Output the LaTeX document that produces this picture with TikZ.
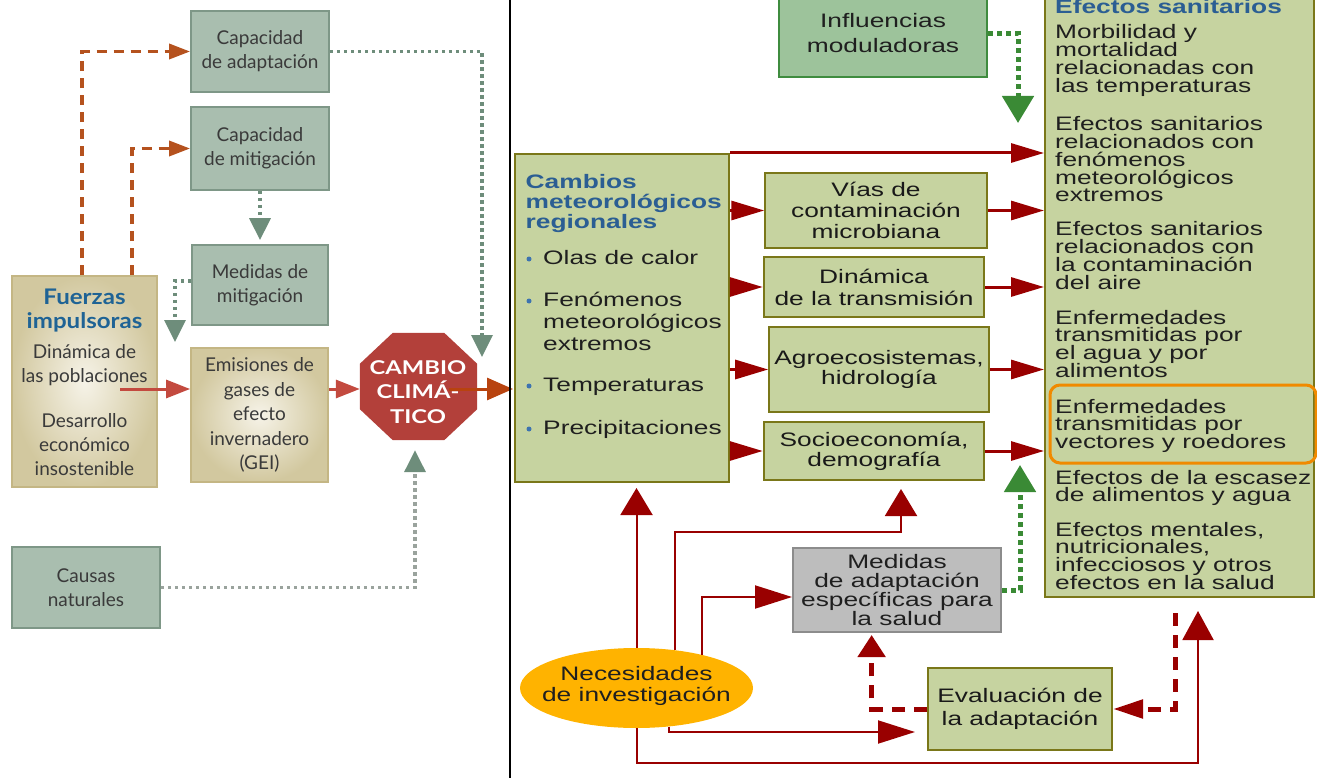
\documentclass[tikz,border=0pt]{standalone}
\usepackage{fontspec}
\setmainfont{Liberation Sans}
\newfontfamily\lfont{Lato}
\newfontfamily\lbfont[FakeStretch=1.12]{Lato}
\newfontfamily\ofont[FakeStretch=1.25]{Lato}
\newfontfamily\rfont[FakeStretch=1.35]{Liberation Sans}
\usetikzlibrary{arrows.meta,shapes.geometric}
\lineskiplimit=-100pt
\newcommand{\LL}[2]{\vtop{\baselineskip=#1\relax\halign{##\hfil\cr#2\crcr}}}
\newcommand{\CL}[2]{\vtop{\baselineskip=#1\relax\halign{\hfil##\hfil\cr#2\crcr}}}
\definecolor{ggFill}{HTML}{A9BEAF}
\definecolor{ggDraw}{HTML}{7E9787}
\definecolor{ltext}{HTML}{3A3A3A}
\definecolor{bgOut}{HTML}{D2C89F}
\definecolor{bgIn}{HTML}{F6F3E8}
\definecolor{bgDraw}{HTML}{C4B684}
\definecolor{octred}{HTML}{B3403A}
\definecolor{brownD}{HTML}{B5521E}
\definecolor{gdotC}{HTML}{6E8D7B}
\definecolor{grayD}{HTML}{9AA39D}
\definecolor{lred}{HTML}{C34A3F}
\definecolor{oarr}{HTML}{B8430F}
\definecolor{fblue}{HTML}{1F6395}
\definecolor{olFill}{HTML}{C6D3A0}
\definecolor{olDraw}{HTML}{7A7719}
\definecolor{dred}{HTML}{990000}
\definecolor{tblue}{HTML}{2B5E93}
\definecolor{bblue}{HTML}{3D73B0}
\definecolor{inflF}{HTML}{9DC39B}
\definecolor{inflD}{HTML}{3F8C3F}
\definecolor{grn}{HTML}{3A8A35}
\definecolor{medF}{HTML}{BDBDBD}
\definecolor{medD}{HTML}{8C8C8C}
\definecolor{necF}{HTML}{FFB300}
\definecolor{hlO}{HTML}{F08A00}
\begin{document}
\begin{tikzpicture}[x=1pt,y=-1pt,
  ggbox/.style={draw=ggDraw, line width=1.8pt, fill=ggFill, text=ltext, font=\lfont\fontsize{19}{24}\selectfont, align=center, inner sep=0pt},
  bgbox/.style={draw=bgDraw, line width=1.8pt, inner color=bgIn, outer color=bgOut, text=ltext, font=\lfont\fontsize{19}{24.5}\selectfont, align=center, inner sep=0pt},
  olbox/.style={draw=olDraw, line width=2pt, fill=olFill, text=black!90, font=\rfont\fontsize{19.5}{21}\selectfont, align=center, inner sep=0pt},
  etitle/.style={text=tblue, font=\rfont\bfseries\fontsize{19.5}{20}\selectfont, inner sep=0pt},
  etext/.style={text=black!88, font=\rfont\fontsize{19.5}{17.7}\selectfont, inner sep=0pt},
  btext/.style={text=black!88, font=\rfont\fontsize{19.5}{22}\selectfont, inner sep=0pt},
  bulletdot/.style={circle, fill=bblue, inner sep=0pt, minimum size=5pt},
  rarr/.style={dred, line width=3pt, -{Triangle[length=33pt,width=19pt]}},
  nlineV/.style={dred, line width=2pt, -{Triangle[length=27pt,width=32pt]}},
  nlineH/.style={dred, line width=2pt, -{Triangle[length=37pt,width=23pt]}},
  ddash/.style={dred, line width=5pt, dash pattern=on 13pt off 9pt},
  gdotR/.style={grn, line width=5pt, dash pattern=on 5pt off 4pt, -{Triangle[length=27pt,width=31pt]}},
  bdash/.style={brownD, line width=3.5pt, dash pattern=on 10pt off 7pt, -{Triangle[length=21pt,width=15pt]}},
  gdotL/.style={gdotC, line width=3.5pt, dash pattern=on 3.5pt off 3.5pt, -{Triangle[length=22pt,width=21pt]}},
  larr/.style={lred, line width=3pt, -{Triangle[length=24pt,width=18pt]}},
  oarrS/.style={oarr, line width=3pt, -{Triangle[length=26pt,width=22pt]}}
]
\useasboundingbox (0,0) rectangle (1317,778);
\clip (0,0) rectangle (1317,778);

% ---------------- left panel ----------------
\node[ggbox, minimum width=138pt, minimum height=81pt] (capA) at (260,51.5) {Capacidad\\de adaptación};
\node[ggbox, minimum width=138pt, minimum height=83pt] (capM) at (260,148.5) {Capacidad\\de mitigación};
\node[ggbox, minimum width=136pt, minimum height=80pt] (medM) at (260,285) {Medidas de\\mitigación};
\node[bgbox, minimum width=145pt, minimum height=211pt] (fuer) at (84.5,381.5) {};
\node[anchor=base, inner sep=0pt, text=ltext, font=\lfont\fontsize{19}{24}\selectfont] (fuerT) at (84.5,304)
  {\CL{24pt}{{\lbfont\bfseries\color{fblue}\fontsize{21.5}{24}\selectfont Fuerzas}\cr
  {\lbfont\bfseries\color{fblue}\fontsize{21.5}{24}\selectfont impulsoras}\cr\noalign{\vskip6pt}
  Dinámica de\cr las poblaciones\cr\noalign{\vskip21pt}
  Desarrollo\cr económico\cr insostenible}};
\node[bgbox, minimum width=137pt, minimum height=134pt] (emis) at (259.5,415) {Emisiones de\\gases de\\efecto\\invernadero\\(GEI)};
\node[ggbox, minimum width=148pt, minimum height=81pt] (causas) at (86,587.5) {Causas\\naturales};

% octagon
\node[minimum width=117pt, minimum height=107pt, inner sep=0pt] (oct) at (418.5,386.5) {};
\fill[octred] ([xshift=33pt]oct.north west) -- ([xshift=-33pt]oct.north east) -- ([yshift=-31pt]oct.north east)
  -- ([yshift=31pt]oct.south east) -- ([xshift=-33pt]oct.south east) -- ([xshift=33pt]oct.south west)
  -- ([yshift=31pt]oct.south west) -- ([yshift=-31pt]oct.north west) -- cycle;
\node[text=white, font=\ofont\bfseries\fontsize{19}{24.5}\selectfont, align=center, inner sep=0pt] (octT) at (418,392) {CAMBIO\\CLIMÁ-\\TICO};

% left connectors
\draw[bdash] ([xshift=71pt]fuer.north west) |- (capA.west);
\draw[bdash] ([xshift=121pt]fuer.north west) |- (capM.west);
\draw[gdotL, shorten >=4pt] (capM.south) -- (medM.north);
\coordinate (medTip) at (175,342);
\draw[gdotL] ([yshift=4pt]medM.west) -| (medTip);
\coordinate (capTip) at (482,357);
\draw[gdotL] (capA.east) -| (capTip);
\draw[grayD, line width=3.5pt, dash pattern=on 3.5pt off 3.5pt, -{Triangle[length=22pt,width=21pt,color=gdotC]}] (causas.east) -| ([xshift=-3.5pt,yshift=-10pt]oct.south);
\coordinate (fuerOut) at (120,389);
\draw[larr] (fuerOut) -- (fuerOut -| emis.west);
\draw[larr] (emis.east |- fuerOut) -- (oct.west |- fuerOut);
\coordinate (octOut) at (449,389);
\coordinate (octEnd) at (513,389);
\draw[oarrS] (octOut) -- (octEnd);

% divider
\draw[black, line width=2pt] (510,0) -- (510,778);

% ---------------- right panel ----------------
\node[draw=inflD, line width=2pt, fill=inflF, minimum width=208pt, minimum height=87pt, inner sep=0pt, text=black!88,
  font=\rfont\fontsize{19.5}{25}\selectfont, align=center] (infl) at (883,33.5) {Influencias\\moduladoras};
\node[olbox, minimum width=269pt, minimum height=620pt] (efect) at (1179.5,287) {};
\node[olbox, minimum width=214pt, minimum height=328pt] (camb) at (622,318) {};
\node[olbox, minimum width=221.5pt, minimum height=75pt] (vias) at (876,210.5) {Vías de\\contaminación\\microbiana};
\node[olbox, minimum width=220.5pt, minimum height=60pt, font=\rfont\fontsize{19.5}{22}\selectfont] (dina) at (874,287) {Dinámica\\de la transmisión};
\node[olbox, minimum width=219.6pt, minimum height=85pt, font=\rfont\fontsize{19.5}{19.5}\selectfont] (agro) at (879,369.5) {Agroecosistemas,\\hidrología};
\node[olbox, minimum width=220.5pt, minimum height=58pt, font=\rfont\fontsize{19.5}{20}\selectfont] (soci) at (874,451) {Socioeconomía,\\demografía};
\node[draw=medD, line width=2pt, fill=medF, minimum width=208pt, minimum height=84pt, inner sep=0pt, text=black!88,
  font=\rfont\fontsize{19.5}{19.3}\selectfont, align=center] (meda) at (897,590) {Medidas\\de adaptación\\específicas para\\la salud};
\node[ellipse, fill=necF, minimum width=233pt, minimum height=80pt, inner sep=0pt] (nec) at (636.5,688) {};
\node[text=black!88, font=\rfont\fontsize{19.5}{21}\selectfont, align=center, inner sep=0pt] (necT) at (636.5,686) {Necesidades\\de investigación};
\node[olbox, minimum width=184pt, minimum height=82pt, font=\rfont\fontsize{19.5}{23}\selectfont] (eval) at (1020,709) {Evaluación de\\la adaptación};

% Cambios text
\node[etitle, anchor=base west] (ctit) at (525.5,189) {\LL{20pt}{Cambios\cr meteorológicos\cr regionales}};
\node[btext, anchor=base west] (l1) at (543,264) {Olas de calor};
\node[btext, anchor=base west] (l2) at (543,306) {\LL{22pt}{Fenómenos\cr meteorológicos\cr extremos}};
\node[btext, anchor=base west] (l3) at (543,391) {Temperaturas};
\node[btext, anchor=base west] (l4) at (543,434) {Precipitaciones};
\node[bulletdot] (b1) at (529,259) {};
\node[bulletdot] (b2) at (529,301) {};
\node[bulletdot] (b3) at (529,386) {};
\node[bulletdot] (b4) at (529,429) {};

% Efectos text
\node[etitle, anchor=base west] (etit) at (1055,14) {Efectos sanitarios};
\node[etext, anchor=base west] (e1) at (1055,39) {\LL{17.7pt}{Morbilidad y\cr mortalidad\cr relacionadas con\cr las temperaturas}};
\node[etext, anchor=base west] (e2) at (1055,131) {\LL{17.7pt}{Efectos sanitarios\cr relacionados con\cr fenómenos\cr meteorológicos\cr extremos}};
\node[etext, anchor=base west] (e3) at (1055,236) {\LL{17.7pt}{Efectos sanitarios\cr relacionados con\cr la contaminación\cr del aire}};
\node[etext, anchor=base west] (e4) at (1055,324) {\LL{17.7pt}{Enfermedades\cr transmitidas por\cr el agua y por\cr alimentos}};
\node[etext, anchor=base west] (e5) at (1055,413) {\LL{17.7pt}{Enfermedades\cr transmitidas por\cr vectores y roedores}};
\node[etext, anchor=base west] (e6) at (1055,484) {\LL{17.7pt}{Efectos de la escasez\cr de alimentos y agua}};
\node[etext, anchor=base west] (e7) at (1055,536) {\LL{17.7pt}{Efectos mentales,\cr nutricionales,\cr infecciosos y otros\cr efectos en la salud}};
\node[draw=hlO, line width=3pt, rounded corners=10pt, minimum width=266pt, minimum height=78pt, inner sep=0pt] (hl) at (1183,424) {};

% right connectors
\draw[rarr] (camb.north east) -- (camb.north east -| efect.west);
\draw[rarr] (camb.east |- vias.west) -- (vias.west);
\draw[rarr] (camb.east |- dina.west) -- (dina.west);
\draw[rarr] (camb.east |- agro.west) -- (agro.west);
\draw[rarr] (camb.east |- soci.west) -- (soci.west);
\draw[rarr] (vias.east) -- (vias.east -| efect.west);
\draw[rarr] (dina.east) -- (dina.east -| efect.west);
\draw[rarr] (agro.east) -- (agro.east -| efect.west);
\draw[rarr] (soci.east) -- (soci.east -| efect.west);

\coordinate (gTip1) at (1018,123);
\draw[gdotR] (infl.east) -| (gTip1);
\coordinate (gTip2) at (1020,465);
\draw[gdotR] (meda.east) -| (gTip2);

\draw[nlineV, shorten >=5pt] (nec.north) -- (nec.north |- camb.south);
\coordinate (k1) at (901,532);
\draw[nlineV, shorten >=8pt] (nec.45) |- (k1) -- (k1 |- soci.south);
\draw[nlineH] (nec.27) |- ([yshift=-7pt]meda.west);
\draw[nlineH, shorten >=12pt] (nec.-50) |- ([yshift=-23pt]eval.west);
\coordinate (k2) at (1198,763);
\draw[dred, line width=2pt, -{Triangle[length=29pt,width=31pt]}, shorten >=13pt] (nec.south) |- (k2) -- (k2 |- efect.south);
\draw[ddash, -{Triangle[length=22pt,width=27pt]}, shorten >=2pt] (eval.west) -| ([xshift=-25.4pt]meda.south);
\draw[ddash, -{Triangle[length=30pt,width=18pt]}] ([xshift=-4.5pt,yshift=-15pt]efect.south) |- (eval.east);
\end{tikzpicture}
\end{document}
